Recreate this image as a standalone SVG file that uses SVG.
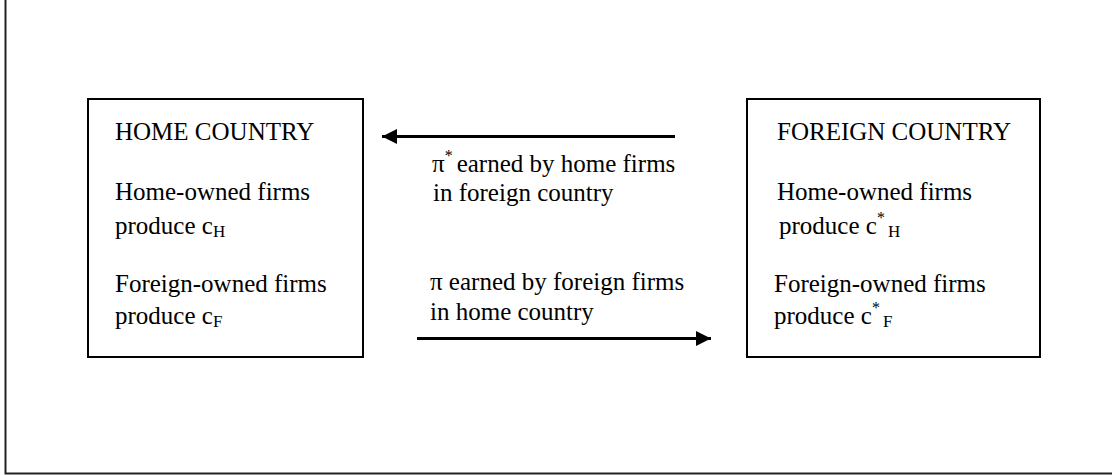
<svg xmlns="http://www.w3.org/2000/svg" width="1112" height="475" viewBox="0 0 1112 475">
<style>
text{font-family:"Liberation Serif","Times New Roman",serif;font-size:25px;fill:#000}
.sub{font-size:17px}
.sup{font-size:16px}
.box{fill:#fff;stroke:#000;stroke-width:2}
.conn{stroke:#000;stroke-width:3;fill:none}
.frame{stroke:#222;stroke-width:2;fill:none}
</style>
<defs>
<marker id="ah" viewBox="0 0 15 15" refX="15" refY="7.5" markerUnits="userSpaceOnUse" markerWidth="15" markerHeight="15" orient="auto">
<path d="M0,0 L15,7.5 L0,15 Z" fill="#000"/>
</marker>
</defs>
<rect width="1112" height="475" fill="#fff"/>
<path class="frame" d="M5.5,0 V473.5 H1112"/>
<g id="home">
<rect class="box" x="88" y="99" width="275" height="258"/>
<text x="115" y="140">HOME COUNTRY</text>
<text x="115" y="200">Home-owned firms</text>
<text x="115" y="234">produce c<tspan class="sub" dy="3">H</tspan></text>
<text x="115" y="292">Foreign-owned firms</text>
<text x="115" y="324">produce c<tspan class="sub" dy="3">F</tspan></text>
</g>
<g id="foreign">
<rect class="box" x="747" y="99" width="293" height="258"/>
<text x="777" y="140">FOREIGN COUNTRY</text>
<text x="777" y="200">Home-owned firms</text>
<text x="779" y="234">produce c<tspan class="sup" dy="-11">*</tspan><tspan class="sub" dx="3" dy="14">H</tspan></text>
<text x="774" y="292">Foreign-owned firms</text>
<text x="774" y="324">produce c<tspan class="sup" dy="-11">*</tspan><tspan class="sub" dx="3" dy="14">F</tspan></text>
</g>
<g id="connectors">
<line class="conn" x1="675" y1="136.5" x2="382" y2="136.5" marker-end="url(#ah)"/>
<line class="conn" x1="417" y1="338.5" x2="711" y2="338.5" marker-end="url(#ah)"/>
<text x="432" y="172">π<tspan class="sup" dy="-11">*</tspan><tspan dx="4" dy="11">earned by home firms</tspan></text>
<text x="433" y="201">in foreign country</text>
<text x="430" y="290">π earned by foreign firms</text>
<text x="430" y="320">in home country</text>
</g>
</svg>
